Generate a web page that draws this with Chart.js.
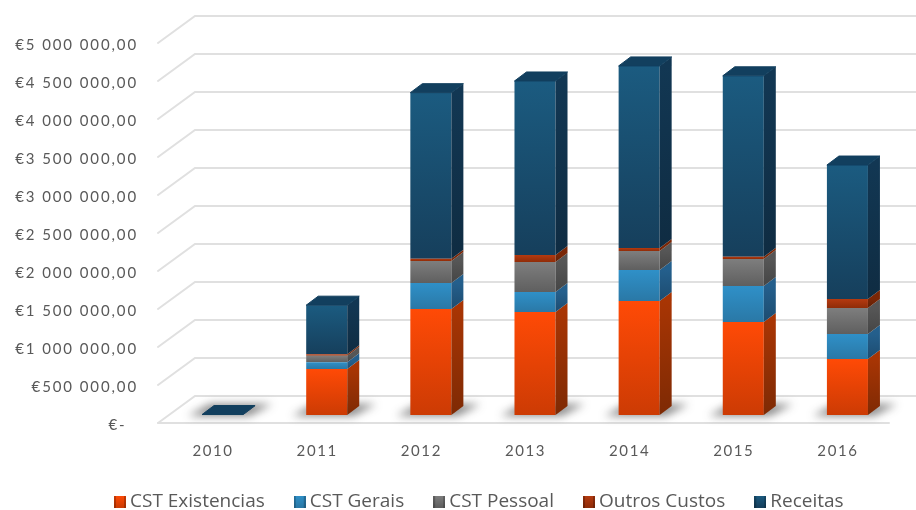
<!DOCTYPE html>
<html><head><meta charset="utf-8">
<style>html,body{margin:0;padding:0;background:#fff}canvas{display:block;filter:blur(0.45px)}</style>
<script src="https://cdn.jsdelivr.net/npm/chart.js@4"></script>
</head><body><canvas id="c" width="916" height="510"></canvas>
<script>
const categories = ['2010','2011','2012','2013','2014','2015','2016'];
const cstExistencias = [0, 605000, 1395000, 1355000, 1500000, 1224000, 737000];
const cstGerais      = [0, 90000, 342000, 263000, 408000, 474000, 329000];
const cstPessoal     = [0, 85000, 290000, 395000, 250000, 355000, 342000];
const outrosCustos   = [0, 20000, 30000, 92000, 40000, 30000, 118000];
const receitas       = [6000, 645000, 2184000, 2290000, 2395000, 2380000, 1763000];
const yTickLabels = ['€-  ','€500 000,00','€1 000 000,00','€1 500 000,00','€2 000 000,00','€2 500 000,00','€3 000 000,00','€3 500 000,00','€4 000 000,00','€4 500 000,00','€5 000 000,00'];
const seriesNames = ['CST Existencias','CST Gerais','CST Pessoal','Outros Custos','Receitas'];
const seriesValues = [cstExistencias,cstGerais,cstPessoal,outrosCustos,receitas];
const gradTop  = ['#ff4a06','#2f90c8','#7e7e7e','#b53a10','#1b5b80'];
const gradBot  = ['#cc3b04','#2a78a6','#5f5f5f','#8f2c08','#163f5c'];
const sideTop  = ['#a83504','#245f8c','#565656','#7a2606','#123753'];
const sideBot  = ['#7e2a04','#1d4c70','#454545','#5f2005','#0f2c42'];
const topFace = '#123f5e';

const FACE_DX = 10.5, FACE_DY = -8;   // front plane of the bars relative to the axis plane
const DEPTH_X = 12, DEPTH_Y = -9;     // bar depth
const WALL_X = 37, WALL_Y = -27;      // floor depth
const GRID = '#e0e0e0';

function frontGradient(i){
  return function(ctx){
    const chart = ctx.chart, y = chart.scales.y, c = ctx.dataIndex;
    if (c === undefined) return gradTop[i];
    let base = 0;
    for (let k=0;k<i;k++) base += seriesValues[k][c];
    const g = chart.ctx.createLinearGradient(0,y.getPixelForValue(base+seriesValues[i][c]),0,y.getPixelForValue(base));
    g.addColorStop(0,gradTop[i]); g.addColorStop(1,gradBot[i]);
    return g;
  };
}
function swatch(i){
  const s=document.createElement('canvas'); s.width=12; s.height=12;
  const x=s.getContext('2d');
  const g=x.createLinearGradient(0,0,0,12); g.addColorStop(0,gradTop[i]); g.addColorStop(1,gradBot[i]);
  x.fillStyle=g; x.fillRect(0,0,12,12);
  x.fillStyle='rgba(0,0,0,0.22)'; x.fillRect(0,0,2,12); x.fillRect(10,0,2,12);
  return s;
}
function poly(ctx,pts){
  ctx.beginPath(); pts.forEach((p,i)=>i?ctx.lineTo(p[0],p[1]):ctx.moveTo(p[0],p[1])); ctx.closePath();
}
const scene3d = {
  id:'scene3d',
  afterLayout(chart){
    const lg = chart.legend, pad = lg.options.labels.padding;
    const w = lg.width, h = lg.height;
    lg.left = 119.5 - pad; lg.right = lg.left + w;
    lg.top = 500 - pad - 8; lg.bottom = lg.top + h;
    [chart.scales.x, chart.scales.y].forEach(s=>{
      if (s._lsWrapped) return; s._lsWrapped = true;
      const o = s.drawLabels;
      s.drawLabels = function(a){
        const c=this.ctx; c.save();
        c.letterSpacing = s.axis==='x' ? '1.6px' : '1.9px';
        if (s.axis==='y') c.translate(0,2);
        if (s.axis==='x') c.translate(1,0);
        o.call(this,a); c.restore();
      };
    });
  },
  beforeDatasetsDraw(chart){
    const ctx = chart.ctx, y = chart.scales.y, a = chart.chartArea;
    ctx.save();
    ctx.strokeStyle = GRID; ctx.lineWidth = 2; ctx.lineCap='round';
    y.ticks.forEach(t=>{
      const p = y.getPixelForValue(t.value), x0 = a.left - 2;
      ctx.beginPath();
      ctx.moveTo(x0,p); ctx.lineTo(x0+WALL_X,p+WALL_Y); ctx.lineTo(chart.width+5,p+WALL_Y);
      ctx.stroke();
    });
    const z = y.getPixelForValue(0);
    ctx.beginPath(); ctx.moveTo(a.left-2,z); ctx.lineTo(a.right,z); ctx.stroke();
    ctx.restore();

    ctx.save();
    ctx.translate(FACE_DX,FACE_DY);
    // floor shadows
    const meta0 = chart.getDatasetMeta(0);
    ctx.save();
    ctx.filter='blur(4px)';
    ctx.fillStyle='rgba(40,40,40,0.55)';
    categories.forEach((_,c)=>{
      const b = meta0.data[c], hw = b.width/2, L=b.x-hw, R=b.x+hw, Y=y.getPixelForValue(0);
      poly(ctx,[[L-14,Y+1],[R+6,Y+1],[R+DEPTH_X+17,Y-11],[L+8,Y-11]]); ctx.fill();
    });
    ctx.restore();
  },
  afterDatasetsDraw(chart){
    const ctx = chart.ctx;
    categories.forEach((_,c)=>{
      let last=null;
      seriesValues.forEach((vals,i)=>{
        if (!vals[c]) return;
        const b = chart.getDatasetMeta(i).data[c], R=b.x+b.width/2, L=b.x-b.width/2;
        const g = ctx.createLinearGradient(0,b.y,0,b.base);
        g.addColorStop(0,sideTop[i]); g.addColorStop(1,sideBot[i]);
        ctx.fillStyle=g;
        poly(ctx,[[R,b.y],[R+DEPTH_X,b.y+DEPTH_Y],[R+DEPTH_X,b.base+DEPTH_Y],[R,b.base]]); ctx.fill();
        last={L,R,Y:b.y};
      });
      if(last){
        ctx.save();
        ctx.fillStyle=topFace; ctx.strokeStyle=topFace; ctx.lineJoin='round'; ctx.lineWidth=1;
        poly(ctx,[[last.L,last.Y],[last.L+DEPTH_X,last.Y+DEPTH_Y],[last.R+DEPTH_X,last.Y+DEPTH_Y],[last.R,last.Y]]);
        ctx.fill(); ctx.stroke();
        ctx.restore();
      }
    });
    ctx.restore();
  }
};

new Chart(document.getElementById('c'),{
  type:'bar',
  data:{
    labels:categories,
    datasets:seriesNames.map((n,i)=>({
      label:n, data:seriesValues[i], backgroundColor:frontGradient(i), borderWidth:0,
      categoryPercentage:1, barPercentage:0.394, stack:'s'
    }))
  },
  options:{
    responsive:false, animation:false,
    layout:{padding:{top:43,right:27,left:0,bottom:-30}},
    interaction:{mode:null},
    plugins:{
      tooltip:{enabled:false},
      legend:{
        position:'bottom', align:'start',
        labels:{
          usePointStyle:true, pointStyleWidth:1, padding:34.5, color:'#595959',
          font:{family:'"Open Sans"',size:19},
          generateLabels(chart){
            return seriesNames.map((n,i)=>({text:n,fontColor:'#595959',pointStyle:swatch(i),datasetIndex:i,hidden:false,lineWidth:0,strokeStyle:'transparent',fillStyle:gradTop[i]}));
          }
        }
      }
    },
    scales:{
      x:{
        stacked:true, grid:{display:false}, border:{display:false},
        ticks:{padding:11,color:'#595959',font:{family:'Lato',size:15},maxRotation:0,autoSkip:false},
        afterFit(s){ s.height = 117 - (s.chart.legend ? s.chart.legend.height : 0); }
      },
      y:{
        stacked:true, min:0, max:5000000, grid:{display:false}, border:{display:false},
        ticks:{stepSize:500000,padding:14,color:'#595959',font:{family:'Lato',size:15},
          callback(v,i){ return yTickLabels[i]; }},
        afterFit(s){ s.width = 160; }
      }
    }
  },
  plugins:[scene3d]
});
</script></body></html>
